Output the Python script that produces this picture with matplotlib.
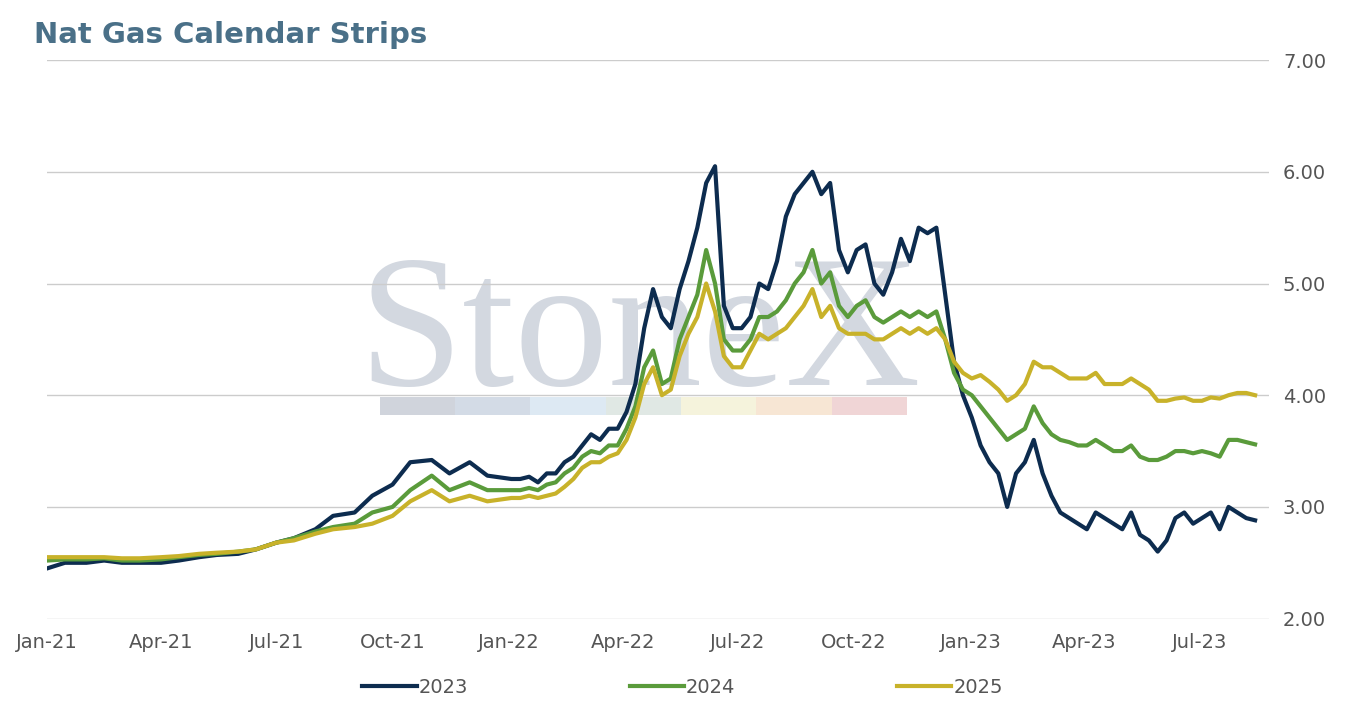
import pandas as pd
import numpy as np
import matplotlib.pyplot as plt
import matplotlib.dates as mdates

# -------------------------
# DATA (semi-monthly 2021, weekly 2022-23)
# -------------------------
d21 = pd.date_range("2021-01-01", "2021-12-15", freq="SMS")
d22 = pd.date_range("2022-01-03", periods=85, freq="7D")
dates = d21.append(d22)

s2023_21 = [2.45, 2.50, 2.50, 2.52, 2.50, 2.50, 2.50, 2.52, 2.55, 2.57, 2.58, 2.62,
            2.68, 2.72, 2.80, 2.92, 2.95, 3.10, 3.20, 3.40, 3.42, 3.30, 3.40, 3.28]
s2024_21 = [2.52, 2.53, 2.53, 2.54, 2.52, 2.52, 2.53, 2.55, 2.57, 2.58, 2.60, 2.62,
            2.68, 2.72, 2.78, 2.82, 2.85, 2.95, 3.00, 3.15, 3.28, 3.15, 3.22, 3.15]
s2025_21 = [2.55, 2.55, 2.55, 2.55, 2.54, 2.54, 2.55, 2.56, 2.58, 2.59, 2.60, 2.62,
            2.68, 2.70, 2.76, 2.80, 2.82, 2.85, 2.92, 3.05, 3.15, 3.05, 3.10, 3.05]

s2023_22 = [3.25, 3.25, 3.27, 3.22, 3.30, 3.30, 3.40, 3.45, 3.55, 3.65, 3.60, 3.70, 3.70,
            3.85, 4.10, 4.60, 4.95, 4.70, 4.60, 4.95, 5.20, 5.50, 5.90, 6.05, 4.80, 4.60,
            4.60, 4.70, 5.00, 4.95, 5.20, 5.60, 5.80, 5.90, 6.00, 5.80, 5.90, 5.30, 5.10,
            5.30, 5.35, 5.00, 4.90, 5.10, 5.40, 5.20, 5.50, 5.45, 5.50, 4.90, 4.30, 4.00,
            3.80, 3.55, 3.40, 3.30, 3.00, 3.30, 3.40, 3.60, 3.30, 3.10, 2.95, 2.90, 2.85,
            2.80, 2.95, 2.90, 2.85, 2.80, 2.95, 2.75, 2.70, 2.60, 2.70, 2.90, 2.95,
            2.85, 2.90, 2.95, 2.80, 3.00, 2.95, 2.90, 2.88]
s2024_22 = [3.15, 3.15, 3.17, 3.15, 3.20, 3.22, 3.30, 3.35, 3.45, 3.50, 3.48, 3.55, 3.55,
            3.70, 3.90, 4.25, 4.40, 4.10, 4.15, 4.50, 4.70, 4.90, 5.30, 5.00, 4.50, 4.40,
            4.40, 4.50, 4.70, 4.70, 4.75, 4.85, 5.00, 5.10, 5.30, 5.00, 5.10, 4.80, 4.70,
            4.80, 4.85, 4.70, 4.65, 4.70, 4.75, 4.70, 4.75, 4.70, 4.75, 4.50, 4.20, 4.05,
            4.00, 3.90, 3.80, 3.70, 3.60, 3.65, 3.70, 3.90, 3.75, 3.65, 3.60, 3.58, 3.55,
            3.55, 3.60, 3.55, 3.50, 3.50, 3.55, 3.45, 3.42, 3.42, 3.45, 3.50, 3.50,
            3.48, 3.50, 3.48, 3.45, 3.60, 3.60, 3.58, 3.56]
s2025_22 = [3.08, 3.08, 3.10, 3.08, 3.10, 3.12, 3.18, 3.25, 3.35, 3.40, 3.40, 3.45, 3.48,
            3.60, 3.80, 4.10, 4.25, 4.00, 4.05, 4.35, 4.55, 4.70, 5.00, 4.75, 4.35, 4.25,
            4.25, 4.40, 4.55, 4.50, 4.55, 4.60, 4.70, 4.80, 4.95, 4.70, 4.80, 4.60, 4.55,
            4.55, 4.55, 4.50, 4.50, 4.55, 4.60, 4.55, 4.60, 4.55, 4.60, 4.50, 4.30, 4.20,
            4.15, 4.18, 4.12, 4.05, 3.95, 4.00, 4.10, 4.30, 4.25, 4.25, 4.20, 4.15, 4.15,
            4.15, 4.20, 4.10, 4.10, 4.10, 4.15, 4.10, 4.05, 3.95, 3.95, 3.97, 3.98,
            3.95, 3.95, 3.98, 3.97, 4.00, 4.02, 4.02, 4.00]

series = {
    "2023": s2023_21 + s2023_22,
    "2024": s2024_21 + s2024_22,
    "2025": s2025_21 + s2025_22,
}
colors = {"2023": "#0d2c4f", "2024": "#5a9b3b", "2025": "#c8b22a"}

# -------------------------
# PLOT
# -------------------------
fig = plt.figure(figsize=(13.5, 7.07), dpi=100)
ax = fig.add_axes([0.035, 0.125, 0.905, 0.79])

# watermark
ax.text(0.485, 0.5, "StoneX", transform=ax.transAxes, fontsize=135, family="Liberation Serif",
        color="#d3d8e0", ha="center", va="center", zorder=0)
wm_cols = ["#d0d4dc", "#d3dbe6", "#dde9f3", "#e0e8e4", "#f5f3dc", "#f7e6d4", "#f0d5d6"]
for i, c in enumerate(wm_cols):
    ax.axhspan(3.82, 3.98, xmin=0.272 + i * 0.0617, xmax=0.272 + (i + 1) * 0.0617,
               color=c, zorder=0, lw=0)

for name, vals in series.items():
    ax.plot(dates, vals, color=colors[name], lw=3, label=name, zorder=3)

ax.set_ylim(2, 7)
ax.set_xlim(pd.Timestamp("2021-01-01"), pd.Timestamp("2023-08-25"))
ax.yaxis.tick_right()
ax.set_yticks(np.arange(2, 7.01, 1))
ax.yaxis.set_major_formatter(plt.FormatStrFormatter("%.2f"))
ax.xaxis.set_major_locator(mdates.MonthLocator(bymonth=[1, 4, 7, 10]))
ax.xaxis.set_major_formatter(mdates.DateFormatter("%b-%y"))
ax.grid(axis="y", color="#cccccc", lw=1)
ax.tick_params(length=0, labelsize=14, colors="#555555", pad=10)
for s in ax.spines.values():
    s.set_visible(False)

fig.text(0.025, 0.95, "Nat Gas Calendar Strips", fontsize=21, fontweight="bold",
         color="#4a7088", va="center")
ax.legend(loc="upper center", bbox_to_anchor=(0.52, -0.075), ncol=3, frameon=False,
          fontsize=14, handlelength=2.8, handletextpad=0.1, columnspacing=8.3,
          labelcolor="#555555")

plt.savefig("out.png")
